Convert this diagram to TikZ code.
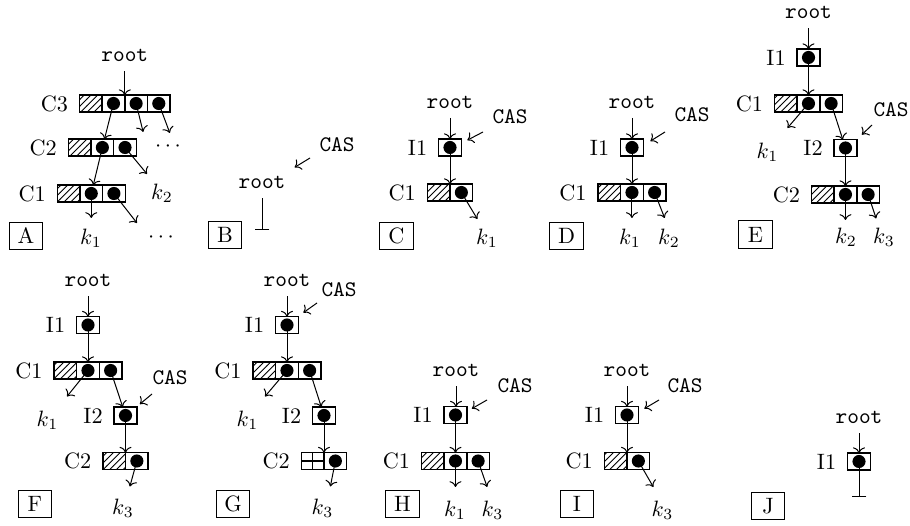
\documentclass[tikz,border=0pt]{standalone}
\usetikzlibrary{patterns,arrows.meta,positioning,calc}
\begin{document}
\begin{tikzpicture}[x=0.45pt,y=-0.45pt,
  cell/.style={draw, line width=0.65pt, minimum width=10.2pt, minimum height=7.5pt, inner sep=0pt, outer sep=0pt},
  hcell/.style={cell, pattern=north east lines},
  dcell/.style={cell, path picture={\fill (path picture bounding box.center) circle (2.95pt);}},
  gcell/.style={cell, path picture={\draw[line width=0.5pt] (path picture bounding box.north) -- (path picture bounding box.south) (path picture bounding box.west) -- (path picture bounding box.east);}},
  tag/.style={draw, line width=0.5pt, minimum width=15pt, minimum height=12.5pt, inner sep=0pt},
  ptr/.style={-{To[length=2.6pt,width=5.4pt]}, line width=0.45pt},
  nil/.style={-{Bar[width=6.7pt]}, line width=0.45pt},
  ttl/.style={font=\ttfamily, inner sep=4pt},
  cas/.style={font=\ttfamily, inner sep=0pt},
  lbl/.style={inner sep=0pt}]
\useasboundingbox (0,0) rectangle (910,526);

% ---------- A ----------
\node[hcell] (a3h) at (90.8,103.5) {};
\node[dcell,right=0pt of a3h] (a3b) {};
\node[dcell,right=0pt of a3b] (a3c) {};
\node[dcell,right=0pt of a3c] (a3d) {};
\node[lbl,left=5pt of a3h] (a3l) {C3};
\node[hcell] (a2h) at (79.7,147.5) {};
\node[dcell,right=0pt of a2h] (a2b) {};
\node[dcell,right=0pt of a2b] (a2c) {};
\node[lbl,left=5pt of a2h] (a2l) {C2};
\node[hcell] (a1h) at (68.6,193.5) {};
\node[dcell,right=0pt of a1h] (a1b) {};
\node[dcell,right=0pt of a1b] (a1c) {};
\node[lbl,left=5pt of a1h] (a1l) {C1};
\node[ttl,anchor=base] (rA) at (124.8,61.7) {root};
\draw[ptr] (rA.south) -- (rA.south |- a3b.north);
\draw[ptr] (a3b.center) -- (a2b);
\draw[ptr] (a3c.center) -- ($(a3c.center)+(7,28.5)$);
\draw[ptr] (a3d.center) -- ($(a3d.center)+(11,29.5)$);
\draw[ptr] (a2b.center) -- (a1b);
\draw[ptr] (a2c.center) -- ($(a2c.center)+(22,26.5)$);
\draw[ptr] (a1b.center) -- ($(a1b.center)+(0,24.5)$);
\draw[ptr] (a1c.center) -- ($(a1c.center)+(23,29.5)$);
\node (ak2) at (162,193) {$k_2$};
\node (ak1) at (91,238) {$k_1$};
\node (adt1) at (168,147) {$\cdots$};
\node (adt2) at (161,238) {$\cdots$};
\node[tag] (tA) at (26,236) {A};

% ---------- B ----------
\node[ttl,anchor=base] (rB) at (262,189) {root};
\node[cas] (cB) at (337,145) {CAS};
\draw[ptr] ($(cB.center)+(-27,13)$) -- (rB.north east);
\draw[nil] (rB.south) -- ($(rB.south)+(0,32)$);
\node[tag] (tB) at (225,235) {B};

% ---------- C ----------
\node[ttl,anchor=base] (rC) at (450,108.5) {root};
\node[dcell] (iC) at (450,147.5) {};
\node[lbl,left=5pt of iC] (iCl) {I1};
\node[hcell] (cCh) at (438.7,192.5) {};
\node[dcell,right=0pt of cCh] (cCb) {};
\node[lbl,left=5pt of cCh] (cCl) {C1};
\draw[ptr] (rC.south) -- (rC.south |- iC.north);
\draw[ptr] (iC.center) -- (iC.center |- cCh.north);
\draw[ptr] (cCb.center) -- ($(cCb.center)+(16,26.5)$);
\node (kC1) at (487,238) {$k_1$};
\node[cas] (casC) at (510,117) {CAS};
\draw[ptr] ($(casC.center)+(-27,15)$) -- ($(iC.north east)+(6,1)$);
\node[tag] (tC) at (396.5,236) {C};

% ---------- D ----------
\node[ttl,anchor=base] (rD) at (632,108.5) {root};
\node[dcell] (iD) at (632,147.5) {};
\node[lbl,left=5pt of iD] (iDl) {I1};
\node[hcell] (dh) at (609.3,192.5) {};
\node[dcell,right=0pt of dh] (db) {};
\node[dcell,right=0pt of db] (dc) {};
\node[lbl,left=5pt of dh] (dl) {C1};
\draw[ptr] (rD.south) -- (rD.south |- iD.north);
\draw[ptr] (iD.center) -- (iD.center |- dh.north);
\draw[ptr] (db.center) -- ($(db.center)+(0,25.5)$);
\draw[ptr] (dc.center) -- ($(dc.center)+(10,25.5)$);
\node (kD1) at (630,238) {$k_1$};
\node (kD2) at (669,238) {$k_2$};
\node[cas] (casD) at (692,115) {CAS};
\draw[ptr] ($(casD.center)+(-27,17)$) -- ($(iD.north east)+(7,2)$);
\node[tag] (tD) at (566.5,236) {D};

% ---------- E ----------
\node[ttl,anchor=base] (rE) at (808.5,19) {root};
\node[dcell] (iE1) at (808.5,57.5) {};
\node[lbl,left=5pt of iE1] (iE1l) {I1};
\node[hcell] (e1h) at (785.8,103.5) {};
\node[dcell,right=0pt of e1h] (e1b) {};
\node[dcell,right=0pt of e1b] (e1c) {};
\node[lbl,left=5pt of e1h] (e1l) {C1};
\draw[ptr] (rE.south) -- (rE.south |- iE1.north);
\draw[ptr] (iE1.center) -- (iE1.center |- e1h.north);
\draw[ptr] (e1b.center) -- ($(e1b.center)+(-21,24.5)$);
\node (kE1) at (767.5,152) {$k_1$};
\node[dcell] (iE2) at (845.5,148) {};
\node[lbl,left=5pt of iE2] (iE2l) {I2};
\draw[ptr] (e1c.center) -- (iE2);
\node[cas] (casE) at (891,110) {CAS};
\draw[ptr] ($(casE.center)+(-19,15)$) -- ($(iE2.north east)+(5,-5)$);
\node[hcell] (e2h) at (822.8,194.5) {};
\node[dcell,right=0pt of e2h] (e2b) {};
\node[dcell,right=0pt of e2b] (e2c) {};
\node[lbl,left=5pt of e2h] (e2l) {C2};
\draw[ptr] (iE2.center) -- (iE2.center |- e2h.north);
\draw[ptr] (e2b.center) -- ($(e2b.center)+(0,25.5)$);
\draw[ptr] (e2c.center) -- ($(e2c.center)+(8,24)$);
\node (kE2) at (846,237) {$k_2$};
\node (kE3) at (884,237) {$k_3$};
\node[tag] (tE) at (755.5,234.5) {E};

% ---------- F ----------
\node[ttl,anchor=base] (rF) at (88,287) {root};
\node[dcell] (iF1) at (88,325) {};
\node[lbl,left=5pt of iF1] (iF1l) {I1};
\node[hcell] (f1h) at (65.3,370.5) {};
\node[dcell,right=0pt of f1h] (f1b) {};
\node[dcell,right=0pt of f1b] (f1c) {};
\node[lbl,left=5pt of f1h] (f1l) {C1};
\draw[ptr] (rF.south) -- (rF.south |- iF1.north);
\draw[ptr] (iF1.center) -- (iF1.center |- f1h.north);
\draw[ptr] (f1b.center) -- ($(f1b.center)+(-21,26)$);
\node (kF1) at (47.5,420) {$k_1$};
\node[dcell] (iF2) at (125.5,415.5) {};
\node[lbl,left=5pt of iF2] (iF2l) {I2};
\draw[ptr] (f1c.center) -- (iF2);
\node[cas] (casF) at (170,378) {CAS};
\draw[ptr] ($(casF.center)+(-18,16)$) -- ($(iF2.north east)+(3,-3)$);
\node[hcell] (f2h) at (114.2,461) {};
\node[dcell,right=0pt of f2h] (f2b) {};
\node[lbl,left=5pt of f2h] (f2l) {C2};
\draw[ptr] (iF2.center) -- (iF2.center |- f2h.north);
\draw[ptr] (f2b.center) -- ($(f2b.center)+(-7,25.5)$);
\node (kF3) at (123,508) {$k_3$};
\node[tag] (tF) at (35,504) {F};

% ---------- G ----------
\node[ttl,anchor=base] (rG) at (287,287) {root};
\node[cas] (casG) at (339,290) {CAS};
\node[dcell] (iG1) at (287,325) {};
\node[lbl,left=5pt of iG1] (iG1l) {I1};
\draw[ptr] ($(casG.center)+(-22,13)$) -- ($(iG1.north east)+(5,-4)$);
\node[hcell] (g1h) at (264.3,370.5) {};
\node[dcell,right=0pt of g1h] (g1b) {};
\node[dcell,right=0pt of g1b] (g1c) {};
\node[lbl,left=5pt of g1h] (g1l) {C1};
\draw[ptr] (rG.south) -- (rG.south |- iG1.north);
\draw[ptr] (iG1.center) -- (iG1.center |- g1h.north);
\draw[ptr] (g1b.center) -- ($(g1b.center)+(-22,26)$);
\node (kG1) at (247.5,420) {$k_1$};
\node[dcell] (iG2) at (324,415.5) {};
\node[lbl,left=5pt of iG2] (iG2l) {I2};
\draw[ptr] (g1c.center) -- (iG2);
\node[gcell] (g2h) at (312.7,461) {};
\node[dcell,right=0pt of g2h] (g2b) {};
\node[lbl,left=5pt of g2h] (g2l) {C2};
\draw[ptr] (iG2.center) -- (iG2.center |- g2h.north);
\draw[ptr] (g2b.center) -- ($(g2b.center)+(-5,25.5)$);
\node (kG3) at (322.5,508) {$k_3$};
\node[tag] (tG) at (233,504) {G};

% ---------- H ----------
\node[ttl,anchor=base] (rH) at (456,377) {root};
\node[cas] (casH) at (515,386) {CAS};
\node[dcell] (iH) at (455.5,415) {};
\node[lbl,left=5pt of iH] (iHl) {I1};
\draw[ptr] ($(casH.center)+(-28,14)$) -- ($(iH.north east)+(5,2)$);
\node[hcell] (hh) at (432.8,461) {};
\node[dcell,right=0pt of hh] (hb) {};
\node[dcell,right=0pt of hb] (hc) {};
\node[lbl,left=5pt of hh] (hl) {C1};
\draw[ptr] (rH.south) -- (rH.south |- iH.north);
\draw[ptr] (iH.center) -- (iH.center |- hh.north);
\draw[ptr] (hb.center) -- ($(hb.center)+(0,26)$);
\draw[ptr] (hc.center) -- ($(hc.center)+(9,26)$);
\node (kH1) at (455,510) {$k_1$};
\node (kH3) at (492.5,510) {$k_3$};
\node[tag] (tH) at (402.5,504) {H};

% ---------- I ----------
\node[ttl,anchor=base] (rI) at (627,377) {root};
\node[cas] (casI) at (685,386) {CAS};
\node[dcell] (iI) at (627,415) {};
\node[lbl,left=5pt of iI] (iIl) {I1};
\draw[ptr] ($(casI.center)+(-26,14)$) -- ($(iI.north east)+(6,2)$);
\node[hcell] (ih) at (615.7,461) {};
\node[dcell,right=0pt of ih] (ib) {};
\node[lbl,left=5pt of ih] (il) {C1};
\draw[ptr] (rI.south) -- (rI.south |- iI.north);
\draw[ptr] (iI.center) -- (iI.center |- ih.north);
\draw[ptr] (ib.center) -- ($(ib.center)+(15,26)$);
\node (kI3) at (662.5,510) {$k_3$};
\node[tag] (tI) at (577,504) {I};

% ---------- J ----------
\node[ttl,anchor=base] (rJ) at (859,424) {root};
\node[dcell] (iJ) at (859,461.5) {};
\node[lbl,left=5pt of iJ] (iJl) {I1};
\draw[ptr] (rJ.south) -- (rJ.south |- iJ.north);
\draw[nil] (iJ.center) -- ($(iJ.center)+(0,35.5)$);
\node[tag] (tJ) at (768,506) {J};
\end{tikzpicture}
\end{document}
